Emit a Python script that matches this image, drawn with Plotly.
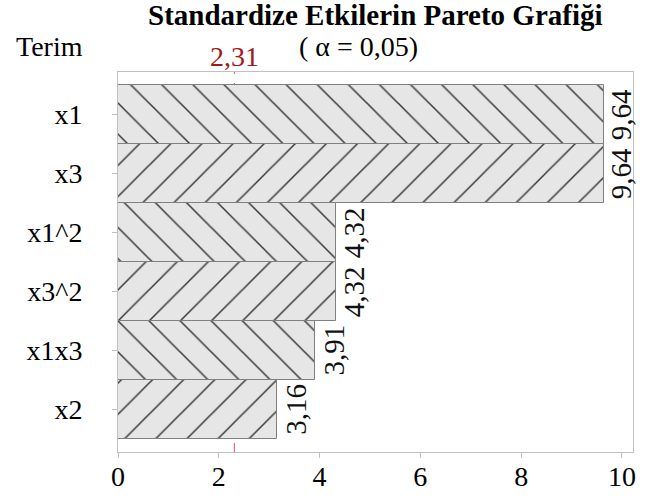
import plotly.graph_objects as go

# Standardized effects (absolute t-values) for each model term
terms = ["x1", "x3", "x1^2", "x3^2", "x1x3", "x2"]
effects = [9.64, 9.64, 4.32, 4.32, 3.91, 3.16]
hatches = ["\\", "/", "\\", "/", "\\", "/"]
critical_t = 2.31
x_ticks = [0, 2, 4, 6, 8, 10]

SERIF = "Liberation Serif"

# plot area in pixels (used to place text outside it)
W, H = 656, 496
M_L, M_R, M_T, M_B = 118, 23, 72, 44
PW, PH = W - M_L - M_R, H - M_T - M_B


def px_x(x):
    return (x - M_L) / PW


def px_y(y):
    return 1 + (M_T - y) / PH


def tr(v):
    """Turkish decimal format with comma."""
    return f"{v:.2f}".replace(".", ",")


fig = go.Figure()

fig.add_trace(go.Bar(
    x=effects,
    y=terms,
    orientation="h",
    width=1.0,
    marker=dict(
        color="#e6e6e6",
        line=dict(color="#808080", width=1),
        pattern=dict(shape=hatches, fgcolor="#3a3a3a", fgopacity=1,
                     bgcolor="#e6e6e6", size=22, solidity=0.07,
                     fillmode="overlay"),
    ),
    hoverinfo="x+y",
))

# value labels, rotated and anchored at the lower edge of each bar
for i, (t, v) in enumerate(zip(terms, effects)):
    fig.add_annotation(
        x=v, y=i + 0.5, xref="x", yref="y",
        text=tr(v), textangle=-90, showarrow=False,
        xanchor="left", yanchor="bottom", xshift=0, yshift=2,
        font=dict(family=SERIF, size=29, color="#111111"),
    )

# critical value reference line
fig.add_shape(type="line", x0=critical_t, x1=critical_t, y0=0, y1=1,
              xref="x", yref="paper", layer="below",
              line=dict(color="#e07070", width=1.2, dash="dash"))
fig.add_annotation(x=critical_t, y=px_y(56), xref="x", yref="paper",
                   text=tr(critical_t), showarrow=False,
                   xanchor="center", yanchor="middle",
                   font=dict(family=SERIF, size=28, color="#a01818"))

# titles
fig.add_annotation(x=0.5, y=px_y(15), xref="paper", yref="paper",
                   text="<b>Standardize Etkilerin Pareto Grafiği</b>",
                   showarrow=False, xanchor="center", yanchor="middle",
                   font=dict(family=SERIF, size=29, color="#000000"))
fig.add_annotation(x=px_x(358), y=px_y(47), xref="paper", yref="paper",
                   text="( α = 0,05)", showarrow=False,
                   xanchor="center", yanchor="middle",
                   font=dict(family=SERIF, size=28, color="#000000"))
fig.add_annotation(x=px_x(49), y=px_y(46), xref="paper", yref="paper",
                   text="Terim", showarrow=False,
                   xanchor="center", yanchor="middle",
                   font=dict(family=SERIF, size=28, color="#000000"))

fig.update_layout(
    width=W, height=H,
    margin=dict(l=M_L, r=M_R, t=M_T, b=M_B),
    paper_bgcolor="white",
    plot_bgcolor="white",
    showlegend=False,
    bargap=0,
    font=dict(family=SERIF, size=28, color="#000000"),
    xaxis=dict(
        range=[0, 10.22],
        tickvals=x_ticks,
        ticktext=[str(t) for t in x_ticks],
        showgrid=False, zeroline=False, automargin=False,
        showline=True, linecolor="#c0c0c0", linewidth=1, mirror=True,
        ticks="outside", ticklen=5, tickcolor="#c0c0c0",
        ticklabelstandoff=-6,
        tickfont=dict(family=SERIF, size=28, color="#000000"),
    ),
    yaxis=dict(
        range=[5.72, -0.72],
        showgrid=False, zeroline=False, automargin=False,
        showline=True, linecolor="#c0c0c0", linewidth=1, mirror=True,
        ticks="outside", ticklen=5, tickcolor="#c0c0c0",
        ticklabelstandoff=24,
        tickfont=dict(family=SERIF, size=28, color="#000000"),
    ),
)

fig.write_html("out.html")
